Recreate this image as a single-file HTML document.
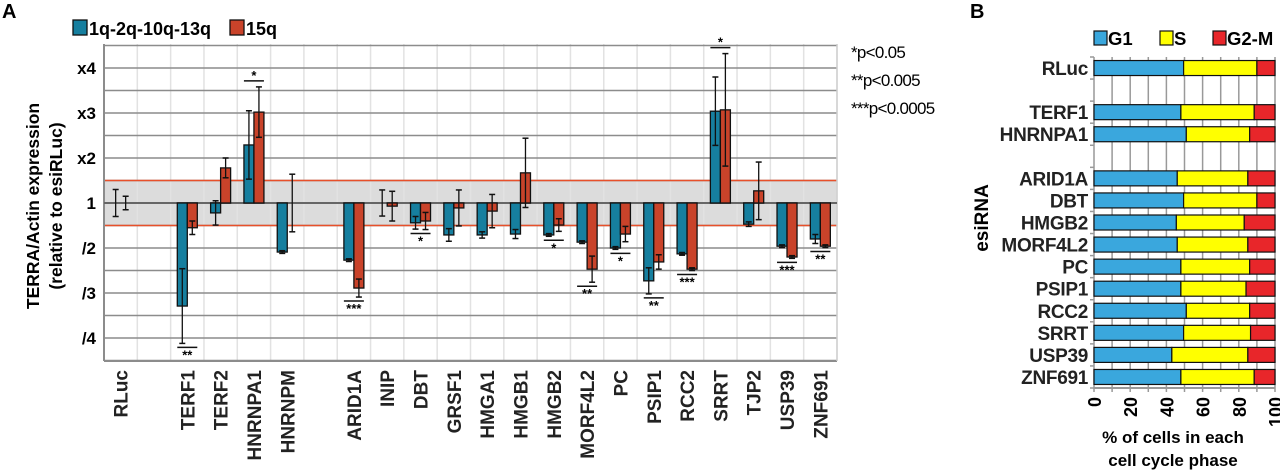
<!DOCTYPE html>
<html><head><meta charset="utf-8"><style>
body{margin:0;background:#fff;width:1280px;height:470px;overflow:hidden;font-family:"Liberation Sans",Arial,sans-serif}
svg text{font-family:"Liberation Sans",Arial,sans-serif}
</style></head><body>
<svg id="c" width="1280" height="470"></svg>
<script>
const cats=["RLuc","","TERF1","TERF2","HNRNPA1","HNRNPM","","ARID1A","INIP","DBT","GRSF1","HMGA1","HMGB1","HMGB2","MORF4L2","PC","PSIP1","RCC2","SRRT","TJP2","USP39","ZNF691"];
// values in fold-steps: 0 = 1, 1 = x2, -1 = /2 ...
const teal=[0,null,-2.29,-0.22,1.29,-1.09,null,-1.27,0,-0.44,-0.71,-0.71,-0.69,-0.71,-0.87,-1.0,-1.73,-1.13,2.04,-0.47,-0.96,-0.8];
const tealErr=[0.3,null,0.83,0.27,0.76,0.03,null,0.03,0.29,0.14,0.14,0.07,0.1,0.03,0.03,0.03,0.29,0.03,0.76,0.05,0.03,0.1];
const red=[0,null,-0.55,0.78,2.02,0,null,-1.89,-0.07,-0.4,-0.11,-0.18,0.67,-0.49,-1.47,-0.69,-1.31,-1.47,2.07,0.27,-1.2,-0.96];
const redErr=[0.15,null,0.15,0.22,0.56,0.64,null,0.2,0.33,0.19,0.4,0.37,0.77,0.14,0.29,0.17,0.16,0.03,1.25,0.64,0.03,0.03];
const sig=["","","**","","*","","","***","","*","","","","*","**","*","**","***","*","","***","**"];
const yTicks=["x4","x3","x2","1","/2","/3","/4"];
const yTickVals=[3,2,1,0,-1,-2,-3];
const rowsB=["RLuc","","TERF1","HNRNPA1","","ARID1A","DBT","HMGB2","MORF4L2","PC","PSIP1","RCC2","SRRT","USP39","ZNF691"];
const g1=[49.5,null,48,51,null,46,49.5,45.5,46,48,48,51,49.5,43,48];
const sPh=[40.5,null,40.5,35,null,39,40.5,37.5,39,38,36,35,37,42,40.5];
const xTicksB=[0,20,40,60,80,100];

const svg=document.getElementById('c');const NS="http://www.w3.org/2000/svg";
function el(t,a,p){const e=document.createElementNS(NS,t);for(const k in a)e.setAttribute(k,a[k]);(p||svg).appendChild(e);return e;}
function tx(s,a,p){const e=el('text',a,p);e.textContent=s;return e;}
// Panel A
const L=104,R=837,T=44,B=361,Y0=203,U=45;
const cw=(R-L)/cats.length;
const yv=v=>Y0-v*U;
const xc=i=>L+cw*(i+0.5);
const gA=el('g',{});

el('rect',{x:L,y:yv(0.5),width:R-L,height:U,fill:'#dcdcdc'},gA);
for(let i=0;i<=cats.length;i++)el('line',{x1:L+cw*i,x2:L+cw*i,y1:T,y2:B,stroke:'#e2e2e2','stroke-width':1.5},gA);
for(let v=3.5;v>=-3.5;v-=0.5){if(v===0)continue;el('line',{x1:L,x2:R,y1:yv(v),y2:yv(v),stroke:'#8c8c8c','stroke-width':1.5},gA);}
el('line',{x1:L,x2:R,y1:yv(0.5),y2:yv(0.5),stroke:'#e8502a','stroke-width':1.5},gA);
el('line',{x1:L,x2:R,y1:yv(-0.5),y2:yv(-0.5),stroke:'#e8502a','stroke-width':1.5},gA);
el('line',{x1:L,x2:L,y1:T,y2:B,stroke:'#8c8c8c','stroke-width':2},gA);
el('line',{x1:L,x2:R,y1:B,y2:B,stroke:'#8c8c8c','stroke-width':2},gA);
el('line',{x1:R,x2:R,y1:T,y2:B,stroke:'#cfcfcf','stroke-width':1.5},gA);
yTicks.forEach((t,i)=>{const e=tx(t,{x:96,y:yv(yTickVals[i])+6,'text-anchor':'end','font-size':17,'font-weight':'bold'},gA);
});
function bar(x,v,err,col,name){
  if(v===null)return;
  const y1=Math.min(yv(v),Y0),h=Math.abs(yv(v)-Y0);
  if(h>0.5){const r=el('rect',{x:x,y:y1,width:10,height:h,fill:col,stroke:'#111','stroke-width':1.3},gA);
  }
  const cx=x+5,a=yv(v+err),b=yv(v-err);
  el('line',{x1:cx,x2:cx,y1:a,y2:b,stroke:'#111','stroke-width':1.3},gA);
  el('line',{x1:cx-3,x2:cx+3,y1:a,y2:a,stroke:'#111','stroke-width':1.5},gA);
  el('line',{x1:cx-3,x2:cx+3,y1:b,y2:b,stroke:'#111','stroke-width':1.5},gA);
}
el('line',{x1:L,x2:R,y1:Y0,y2:Y0,stroke:'#666','stroke-width':2},gA);
cats.forEach((c,i)=>{
  if(c==="")return;
  const x=xc(i);
  bar(x-10,teal[i],tealErr[i],'#167f9f','bar-'+c.toLowerCase()+'-1q');
  bar(x,red[i],redErr[i],'#c9432a','bar-'+c.toLowerCase()+'-15q');
  if(sig[i]){
    const up=(teal[i]>0.5);
    let yy;
    if(up){yy=Math.min(yv(teal[i]+tealErr[i]),yv(red[i]+redErr[i]))-6;}
    else{yy=Math.max(yv(teal[i]-tealErr[i]),yv(red[i]-redErr[i]))+4;}
    el('line',{x1:x-10,x2:x+10,y1:yy,y2:yy,stroke:'#111','stroke-width':1.5},gA);
    const s=tx(sig[i],{x:x,y:up?yy-1:yy+12,'text-anchor':'middle','font-size':13,'font-weight':'bold'},gA);
    
  }
  const lb=tx(c,{transform:`translate(${x+7},370) rotate(-90)`,'text-anchor':'end','font-size':19,'font-weight':'bold','fill':'#222'},gA);
  
});
const yt=tx('TERRA/Actin expression',{transform:'translate(39,206) rotate(-90)','text-anchor':'middle','font-size':17.5,'font-weight':'bold'});

const yt2=tx('(relative to esiRLuc)',{transform:'translate(62,206) rotate(-90)','text-anchor':'middle','font-size':17.5,'font-weight':'bold'});

const pa=tx('A',{x:2,y:18,'font-size':20,'font-weight':'bold'});
// legend A
const lg=el('g',{});
el('rect',{x:73,y:20,width:14,height:15,fill:'#167f9f',stroke:'#111','stroke-width':1.3},lg);
tx('1q-2q-10q-13q',{x:89,y:35,'font-size':18,'font-weight':'bold'},lg);
el('rect',{x:230,y:20,width:14,height:15,fill:'#c9432a',stroke:'#111','stroke-width':1.3},lg);
tx('15q',{x:246,y:35,'font-size':18,'font-weight':'bold'},lg);
const pl=el('g',{});
tx('*p<0.05',{x:851,y:58,'font-size':17,'letter-spacing':'-0.7'},pl);
tx('**p<0.005',{x:851,y:86,'font-size':17,'letter-spacing':'-0.7'},pl);
tx('***p<0.0005',{x:851,y:114,'font-size':17,'letter-spacing':'-0.7'},pl);
// Panel B
const BL=1094,BR=1275,BT=57,BB=388;
const rh=(BB-BT)/rowsB.length;
const xb=v=>BL+(BR-BL)*v/100;
const gB=el('g',{});
for(let v=0;v<=100;v+=10)el('line',{x1:xb(v),x2:xb(v),y1:BT,y2:BB,stroke:'#999','stroke-width':1.5},gB);
for(let i=0;i<=rowsB.length;i++)el('line',{x1:BL-4,x2:BL,y1:BT+rh*i,y2:BT+rh*i,stroke:'#999','stroke-width':1.5},gB);
el('line',{x1:BL,x2:BR,y1:BB,y2:BB,stroke:'#999','stroke-width':2},gB);
for(let v=0;v<=100;v+=10)el('line',{x1:xb(v),x2:xb(v),y1:BB,y2:BB+4,stroke:'#999','stroke-width':1.5},gB);
rowsB.forEach((r,i)=>{
  if(r==="")return;
  const yc=BT+rh*(i+0.5),h=15,y=yc-h/2;
  const a=g1[i],b=sPh[i];
  const s1=el('rect',{x:xb(0),y:y,width:xb(a)-xb(0),height:h,fill:'#3aa7dd',stroke:'#111','stroke-width':1.2},gB);
  
  const s2=el('rect',{x:xb(a),y:y,width:xb(a+b)-xb(a),height:h,fill:'#ffff00',stroke:'#111','stroke-width':1.2},gB);
  
  const s3=el('rect',{x:xb(a+b),y:y,width:xb(100)-xb(a+b),height:h,fill:'#e8262a',stroke:'#111','stroke-width':1.2},gB);
  
  const t=tx(r,{x:1088,y:yc+7,'text-anchor':'end','font-size':19,'font-weight':'bold','fill':'#222','letter-spacing':'-0.3'},gB);
  
});
xTicksB.forEach(v=>{const t=tx(String(v),{transform:`translate(${xb(v)+7},397) rotate(-90)`,'text-anchor':'end','font-size':18,'font-weight':'bold'},gB);
});
const xt1=tx('% of cells in each',{x:1173,y:443,'text-anchor':'middle','font-size':17,'font-weight':'bold'});

const xt2=tx('cell cycle phase',{x:1173,y:466,'text-anchor':'middle','font-size':17,'font-weight':'bold'});

const eb=tx('esiRNA',{transform:'translate(988,218) rotate(-90)','text-anchor':'middle','font-size':19,'font-weight':'bold'});

const pb=tx('B',{x:970,y:18,'font-size':20,'font-weight':'bold'});
const lb=el('g',{});
[["G1",1094,'#3aa7dd'],["S",1160,'#ffff00'],["G2-M",1213,'#e8262a']].forEach(([n,x,c])=>{
  el('rect',{x:x,y:31,width:13,height:14,fill:c,stroke:'#111','stroke-width':1.2},lb);
  tx(n,{x:x+14,y:45,'font-size':18.5,'font-weight':'bold'},lb);
});
</script>
</body></html>
